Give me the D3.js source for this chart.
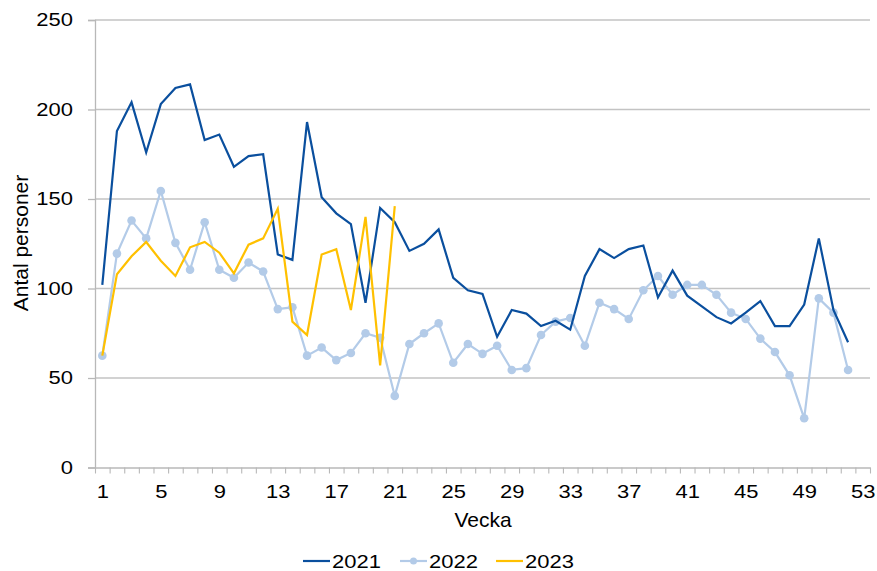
<!DOCTYPE html>
<html><head><meta charset="utf-8">
<script src="https://cdn.jsdelivr.net/npm/d3@7"></script>
<style>body{margin:0;background:#fff}text{font-family:"Liberation Sans",Arial,sans-serif;fill:#000}</style>
</head><body><svg id="c" width="877" height="571"></svg>
<script>
const weeks = d3.range(1, 54);
const xTickLabels = [1,5,9,13,17,21,25,29,33,37,41,45,49,53];
const yTicks = [0,50,100,150,200,250];
const v2021 = [102,188,204,176,203,212,214,183,186,168,174,175,119,116,193,151,142,136,92,145,137,121,125,133,106,99,97,73,88,86,79,82,77,107,122,117,122,124,95,110,96,90,84,80.5,86.5,93,79,79,91,128,88,70];
const v2022 = [62.5,119.5,138,128,154.5,125.5,110.5,137,110.5,106,114.5,109.5,88.5,89.5,62.5,67,60,64,75,72.5,40,69,75,80.5,58.5,69,63.5,68,54.5,55.5,74,81.5,83.5,68,92,88.5,83,99,107,96.5,102,102,96.5,86.5,83,72,64.5,51.5,27.5,94.5,86.5,54.5];
const v2023 = [62.5,108,118,126,115.5,107,123,126,120,108.5,124.5,128,144.5,81.5,74,119,122,88,140,57,146];
const series = [
  {name:"2021", values:v2021, color:"#0a4f9e", dots:false},
  {name:"2022", values:v2022, color:"#b3cbe8", dots:true},
  {name:"2023", values:v2023, color:"#ffc000", dots:false}
];
const svg = d3.select("#c");
const L=95, R=870, T=20, B=467.5;
const x = d3.scaleLinear().domain([0.5,53.5]).range([L,R]);
const y = d3.scaleLinear().domain([0,250]).range([B,T]);
const FONT = "Liberation Sans, Arial, sans-serif";
// gridlines
svg.append("g").selectAll("line").data(yTicks.slice(1)).join("line")
  .attr("x1",L).attr("x2",R).attr("y1",d=>y(d)).attr("y2",d=>y(d))
  .attr("stroke","#c3c3c3").attr("stroke-width",1.3);
// y axis
const ya = svg.append("g").attr("transform",`translate(${L},0)`)
  .call(d3.axisLeft(y).tickValues(yTicks).tickSize(7).tickPadding(15).tickFormat(d3.format("d")));
ya.select(".domain").attr("stroke","#b8b8b8").attr("stroke-width",1.3);
ya.selectAll(".tick line").attr("stroke","#b8b8b8").attr("stroke-width",1.3);
ya.selectAll("text").attr("font-size","18px").attr("fill","#000").attr("font-family",FONT).classed("wide",true);
// x axis ticks at boundaries
const bounds = d3.range(0.5,54,1);
const xa = svg.append("g").attr("transform",`translate(0,${B})`)
  .call(d3.axisBottom(x).tickValues(bounds).tickSize(6).tickFormat("").tickSizeOuter(0));
xa.select(".domain").attr("stroke","#b8b8b8").attr("stroke-width",1.3);
xa.selectAll(".tick line").attr("stroke","#b8b8b8").attr("stroke-width",1.1);
const xl = svg.append("g").attr("transform",`translate(0,${B})`)
  .call(d3.axisBottom(x).tickValues(xTickLabels).tickSize(0).tickPadding(17.5).tickFormat(d3.format("d")));
xl.select(".domain").remove();
xl.selectAll("text").attr("font-size","18px").attr("fill","#000").attr("font-family",FONT).classed("wide",true);
// lines
const line = d3.line().x((d,i)=>x(i+1)).y(d=>y(d));
const gl = svg.append("g");
const s2 = series[1];
gl.append("path").datum(s2.values).attr("d",line).attr("fill","none").attr("stroke",s2.color).attr("stroke-width",2.2);
gl.append("g").selectAll("circle").data(s2.values).join("circle")
  .attr("cx",(d,i)=>x(i+1)).attr("cy",d=>y(d)).attr("r",4.3).attr("fill",s2.color);
[series[0], series[2]].forEach(s=>{
  gl.append("path").datum(s.values).attr("d",line).attr("fill","none")
    .attr("stroke",s.color).attr("stroke-width",2.2);
});
// axis titles
svg.append("text").attr("x",483).attr("y",527).attr("text-anchor","middle").attr("font-size","21px").text("Vecka");
svg.append("text").attr("transform","translate(28,243) rotate(-90)").attr("text-anchor","middle").attr("font-size","21px").text("Antal personer");
// legend
const leg = svg.append("g").attr("transform","translate(0,561)");
const lx = [303, 400, 496];
series.forEach((s,i)=>{
  const g = leg.append("g").attr("transform",`translate(${lx[i]},0)`);
  g.append("line").attr("x1",0).attr("x2",27).attr("y1",0).attr("y2",0).attr("stroke",s.color).attr("stroke-width",2.2);
  if(s.dots) g.append("circle").attr("cx",13.5).attr("cy",0).attr("r",3.5).attr("fill",s.color);
  g.append("text").attr("x",29).attr("y",6.5).attr("font-size","18px").classed("wide",true).text(s.name);
});
// widen digit glyphs to match reference proportions
svg.selectAll("text.wide").each(function(){
  const w = this.getComputedTextLength();
  d3.select(this).attr("textLength", w*1.22).attr("lengthAdjust","spacingAndGlyphs");
});
</script></body></html>
